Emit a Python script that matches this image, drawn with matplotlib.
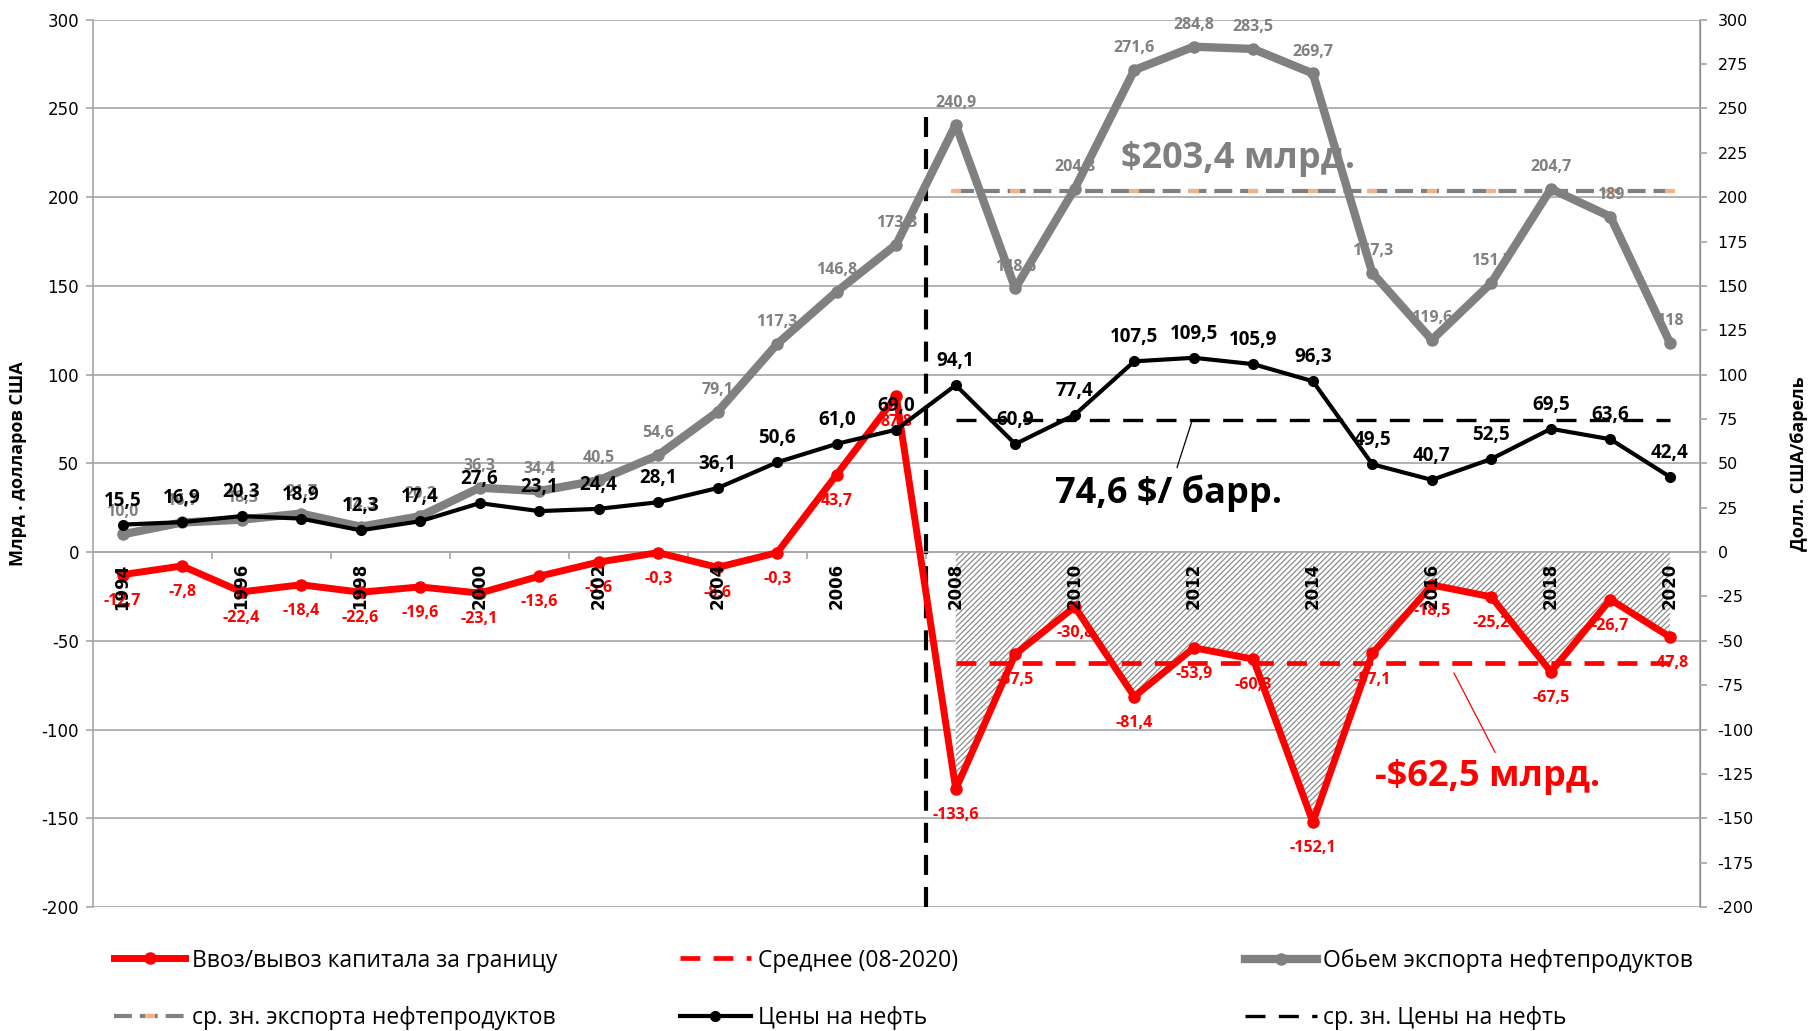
import matplotlib.pyplot as plt
import numpy as np

plt.rcParams['font.family'] = ['Open Sans', 'DejaVu Sans']
plt.rcParams['hatch.linewidth'] = 0.9
plt.rcParams['axes.unicode_minus'] = False

years = list(range(1994, 2021))
capital = [-12.7, -7.8, -22.4, -18.4, -22.6, -19.6, -23.1, -13.6, -5.6, -0.3, -8.6, -0.3, 43.7, 87.8,
           -133.6, -57.5, -30.8, -81.4, -53.9, -60.3, -152.1, -57.1, -18.5, -25.2, -67.5, -26.7, -47.8]
export = [10.0, 16.7, 18.3, 21.7, 14.3, 20.2, 36.3, 34.4, 40.5, 54.6, 79.1, 117.3, 146.8, 173.3,
          240.9, 148.6, 204.8, 271.6, 284.8, 283.5, 269.7, 157.3, 119.6, 151.7, 204.7, 189, 118]
oil = [15.5, 16.9, 20.3, 18.9, 12.3, 17.4, 27.6, 23.1, 24.4, 28.1, 36.1, 50.6, 61.0, 69.0,
       94.1, 60.9, 77.4, 107.5, 109.5, 105.9, 96.3, 49.5, 40.7, 52.5, 69.5, 63.6, 42.4]

avg_from = 2008
capital_avg = -62.5
export_avg = 203.4
oil_avg = 74.6

RED = '#ff0000'
GRAY = '#808080'
SALMON = '#f4b183'
GRID = '#a6a6a6'


def fmt(v):
    if isinstance(v, int):
        return str(v)
    return f'{v:.1f}'.replace('.', ',')


x = np.arange(len(years))
s = years.index(avg_from)
xa = x[s:]

fig = plt.figure(figsize=(18.19, 10.31), dpi=100)
ax = fig.add_axes([0.0510, 0.1202, 0.8834, 0.8607])
ax2 = ax.twinx()

ylim = (-200, 300)
ax.set_xlim(-0.5, len(years) - 0.5)
ax.set_ylim(*ylim)
ax2.set_ylim(*ylim)

# grid and axes
ax.set_yticks(np.arange(-200, 301, 50))
ax.grid(axis='y', color=GRID, lw=1.2, zorder=0)
ax.set_axisbelow(True)
ax2.set_yticks(np.arange(-200, 301, 25))

ax.spines['top'].set_visible(False)
ax2.spines['top'].set_visible(False)
ax.spines['bottom'].set_position(('data', 0))
ax.spines['bottom'].set_color(GRID)
ax.spines['bottom'].set_linewidth(1.2)
ax.spines['left'].set_color(GRID)
ax.spines['left'].set_linewidth(1.2)
ax2.spines['right'].set_color(GRID)
ax2.spines['right'].set_linewidth(1.2)
ax2.spines['left'].set_visible(False)
ax2.spines['bottom'].set_visible(False)

ax.set_xticks(np.arange(1.5, len(years) - 0.5, 2))
ax.set_xticklabels([])
ax.tick_params(axis='x', direction='out', length=5, color=GRID, width=1.2)
ax.tick_params(axis='y', direction='out', length=5, color=GRID, width=1.2,
               labelsize=12, pad=5)
ax2.tick_params(axis='y', direction='out', length=5, color=GRID, width=1.2,
                labelsize=11.5, pad=8)
for lab in ax.get_yticklabels() + ax2.get_yticklabels():
    lab.set_family('DejaVu Sans')

ax.set_ylabel('Млрд . долларов США', fontsize=13, fontweight='bold', labelpad=10)
ax2.set_ylabel('Долл. США/барель', fontsize=13, fontweight='bold', labelpad=26)

# year labels just under the zero line
for i in range(0, len(years), 2):
    ax.annotate(str(years[i]), (x[i], 0), xytext=(0, -8), textcoords='offset points',
                rotation=90, ha='center', va='top', fontsize=12, fontweight='bold',
                family='DejaVu Sans', zorder=7)

# hatched area 2008-2020
ax.fill_between(xa, 0, capital[s:], facecolor='white', edgecolor='#8c8c8c',
                hatch='//////', linewidth=0, zorder=1)

# break line between 2007 and 2008
ax.vlines(s - 0.5, -200, 250, colors='black', lw=3, linestyles=(0, (4.8, 2.9)), zorder=2)

# averages
l_exp_avg, = ax.plot(xa, [export_avg] * len(xa), color=GRAY, lw=3,
                     ls=(0, (4.3, 1.9)), marker='_', ms=7, mew=3,
                     mec=SALMON, zorder=3, label='ср. зн. экспорта нефтепродуктов')
l_cap_avg, = ax.plot(xa, [capital_avg] * len(xa), color=RED, lw=3.4,
                     ls=(0, (4.2, 2.8)), zorder=3, label='Среднее (08-2020)')

# series
l_exp, = ax.plot(x, export, color=GRAY, lw=6, marker='o', ms=8, zorder=4,
                 label='Обьем экспорта нефтепродуктов')
l_cap, = ax.plot(x, capital, color=RED, lw=5, marker='o', ms=8, zorder=5,
                 label='Ввоз/вывоз капитала за границу')

l_oil_avg, = ax2.plot(xa, [oil_avg] * len(xa), color='black', lw=2.4,
                      ls=(0, (6, 4)), zorder=3, label='ср. зн. Цены на нефть')
l_oil, = ax2.plot(x, oil, color='black', lw=3, marker='o', ms=7, zorder=4,
                  label='Цены на нефть')

# data labels
for xi, v in zip(x, export):
    ax.annotate(fmt(v), (xi, v), xytext=(0, 10), textcoords='offset points',
                ha='center', va='bottom', color=GRAY, fontsize=11.5,
                fontweight='bold', zorder=6)
for xi, v in zip(x, capital):
    ax.annotate(fmt(v), (xi, v), xytext=(0, -13), textcoords='offset points',
                ha='center', va='top', color=RED, fontsize=11.5,
                fontweight='bold', zorder=6)
for xi, v in zip(x, oil):
    ax2.annotate(fmt(v), (xi, v), xytext=(0, 10), textcoords='offset points',
                 ha='center', va='bottom', color='black', fontsize=13.5,
                 fontweight='bold', zorder=6)

# callouts
ax.text(18.74, 221.5, '$' + fmt(export_avg) + ' млрд.', color=GRAY, fontsize=26,
        fontweight='bold', ha='center', va='center', zorder=6)
ax2.annotate(fmt(oil_avg) + ' $/ барр.', xy=(17.97, 73.9), xytext=(17.58, 33.3),
             color='black', fontsize=26, fontweight='bold', ha='center', va='center',
             arrowprops=dict(arrowstyle='-', color='black', lw=0.9, shrinkA=3, shrinkB=0))
ax.annotate('-$' + fmt(-capital_avg) + ' млрд.', xy=(22.37, -68), xytext=(22.93, -126.7),
            color=RED, fontsize=26, fontweight='bold', ha='center', va='center', zorder=6,
            arrowprops=dict(arrowstyle='-', color=RED, lw=0.9, shrinkA=3, shrinkB=0,
                            relpos=(0.55, 1.0)))

# legend in three fixed columns
cols = [(0.0627, [l_cap, l_exp_avg]), (0.3737, [l_cap_avg, l_oil]), (0.6847, [l_exp, l_oil_avg])]
for xpos, hs in cols:
    fig.legend(handles=hs, loc='upper left', bbox_to_anchor=(xpos, 0.080),
               frameon=False, fontsize=16.5, numpoints=1, handlelength=3.1,
               handletextpad=0.3, labelspacing=1.45, borderpad=0, borderaxespad=0)

fig.savefig('out.png', dpi=100)
